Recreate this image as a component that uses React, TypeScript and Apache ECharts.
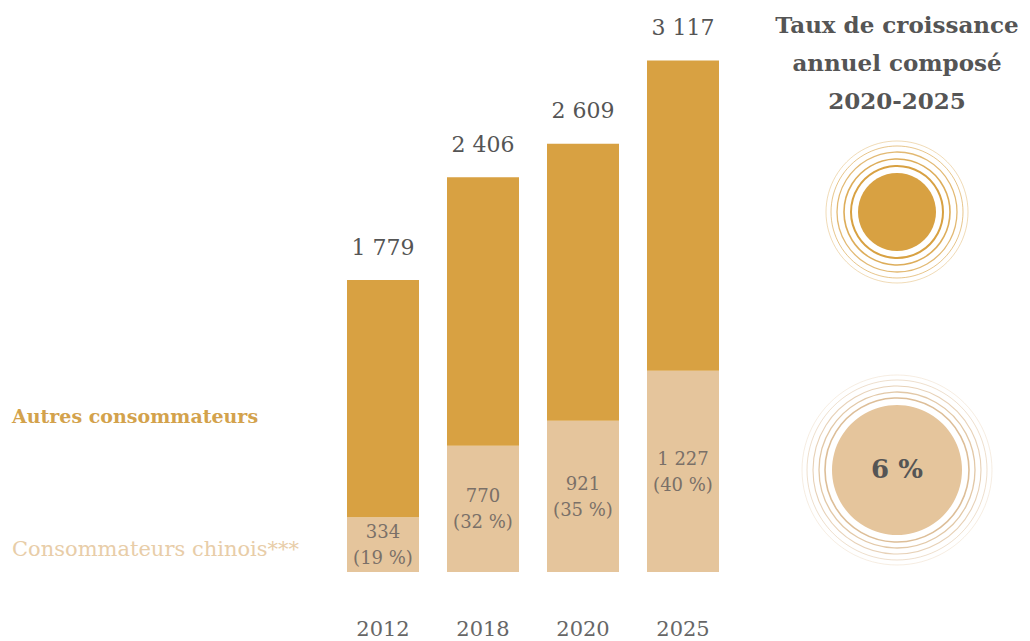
import React, { useEffect, useRef } from "react";
import * as echarts from "echarts";

const years = ["2012", "2018", "2020", "2025"];
const totals = [1779, 2406, 2609, 3117];
const chinese = [334, 770, 921, 1227];
const chineseShare = [19, 32, 35, 40];
const others = totals.map((t, i) => t - chinese[i]);
const growthRate = "6 %";
const titleLines = ["Taux de croissance", "annuel composé", "2020-2025"];
const legendOthers = "Autres consommateurs";
const legendChinese = "Consommateurs chinois***";

const DARK = "#D8A142";
const LIGHT = "#E5C59C";
const FONT = "'DejaVu Serif', serif";

const fmt = (n: number) => {
  const s = String(n);
  return s.length > 3 ? s.slice(0, s.length - 3) + " " + s.slice(-3) : s;
};

export default function App() {
  const ref = useRef<HTMLDivElement>(null);
  useEffect(() => {
    if (!ref.current) return;
    const chart = echarts.init(ref.current, null, { renderer: "svg" });
    const rings = (cx: number, cy: number, radii: number[], color: string, widths: number[]) =>
      radii.map((r, i) => ({
        type: "circle",
        shape: { cx, cy, r },
        style: { fill: "none", stroke: color, lineWidth: widths[i] },
        silent: true,
      }));
    chart.setOption({
      animation: false,
      backgroundColor: "#ffffff",
      grid: { left: 333, width: 400, top: 14, bottom: 69, containLabel: false },
      xAxis: {
        type: "category",
        data: years,
        axisLine: { show: false },
        axisTick: { show: false },
        axisLabel: { margin: 46, fontSize: 21, color: "#666", fontFamily: FONT },
      },
      yAxis: { type: "value", min: 0, max: 3400, show: false, splitLine: { show: false } },
      series: [
        {
          type: "bar",
          stack: "t",
          data: chinese,
          barWidth: 72,
          itemStyle: { color: LIGHT },
          label: {
            show: true,
            position: "inside",
            fontFamily: FONT,
            fontSize: 18,
            lineHeight: 26,
            color: "#7a7068",
            formatter: (p: any) => `${fmt(p.value)}\n(${chineseShare[p.dataIndex]} %)`,
          },
        },
        {
          type: "bar",
          stack: "t",
          data: others,
          barWidth: 72,
          itemStyle: { color: DARK },
          label: {
            show: true,
            position: "top",
            distance: 22,
            fontFamily: FONT,
            fontSize: 22,
            color: "#555",
            formatter: (p: any) => fmt(totals[p.dataIndex]),
          },
        },
      ],
      graphic: [
        {
          type: "text",
          left: 12,
          top: 406,
          style: { text: legendOthers, fill: "#D3A24C", font: `bold 19px ${FONT}` },
        },
        {
          type: "text",
          left: 12,
          top: 538,
          style: { text: legendChinese, fill: "#E8CDA8", font: `21px ${FONT}` },
        },
        ...titleLines.map((t, i) => ({
          type: "text",
          x: 897,
          y: 24 + i * 38,
          style: {
            text: t,
            fill: "#555",
            font: `bold 23px ${FONT}`,
            textAlign: "center",
            textVerticalAlign: "middle",
          },
        })),
        ...rings(897, 212, [46, 53, 60, 66, 71], DARK, [2, 1.6, 1.3, 1, 0.8]).map((e: any, i: number) => ({
          ...e,
          style: { ...e.style, opacity: 1 - i * 0.13 },
        })),
        { type: "circle", shape: { cx: 897, cy: 212, r: 39 }, style: { fill: DARK } },
        ...rings(897, 470, [72, 78, 84, 90, 95], "#DDBE98", [1.6, 1.3, 1.1, 0.9, 0.7]).map((e: any, i: number) => ({
          ...e,
          style: { ...e.style, opacity: 1 - i * 0.15 },
        })),
        { type: "circle", shape: { cx: 897, cy: 470, r: 65 }, style: { fill: LIGHT } },
        {
          type: "text",
          x: 897,
          y: 469,
          style: {
            text: growthRate,
            fill: "#555",
            font: `bold 26px ${FONT}`,
            textAlign: "center",
            textVerticalAlign: "middle",
          },
        },
      ],
    });
    return () => chart.dispose();
  }, []);
  return <div ref={ref} style={{ position: "fixed", left: 0, top: 0, width: 1030, height: 641 }} />;
}
